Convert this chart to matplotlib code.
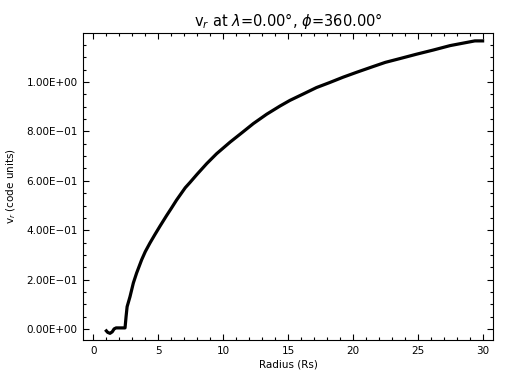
import matplotlib
matplotlib.use("Agg")
import matplotlib.pyplot as plt
import matplotlib.ticker as mticker

# radius (Rs) and v_r (code units)
radius = [1.0, 1.1, 1.28, 1.45, 1.6, 1.75, 2.44, 2.52, 2.6, 2.82, 3.08, 3.33, 3.72,
          4.0, 4.36, 4.75, 5.13, 5.64, 6.0, 6.41, 7.08, 7.44, 8.0, 8.74, 9.5,
          10.54, 11.5, 12.33, 13.36, 14.38, 15.15, 16.18, 17.2, 18.2, 19.25,
          20.3, 21.5, 22.5, 23.6, 24.9, 26.2, 27.5, 28.5, 29.4, 30.0]
vr = [-0.008, -0.014, -0.018, -0.012, 0.0, 0.004, 0.004, 0.05, 0.09, 0.13, 0.186,
      0.226, 0.28, 0.313, 0.348, 0.383, 0.416, 0.459, 0.488, 0.522, 0.572, 0.593,
      0.627, 0.670, 0.710, 0.757, 0.797, 0.832, 0.870, 0.903, 0.926, 0.952,
      0.978, 0.998, 1.020, 1.04, 1.062, 1.08, 1.095, 1.113, 1.13, 1.148, 1.158,
      1.167, 1.167]

title_txt = r"v$_r$ at $\lambda$=0.00°, $\phi$=360.00°"
xlabel_txt = "Radius (Rs)"
ylabel_txt = r"v$_r$ (code units)"


def sci_fmt(y, pos):
    s = f"{y:.2E}"
    return s.replace("-", "\u2212")


fig = plt.figure(figsize=(5.12, 3.84), dpi=100)
ax = fig.add_axes([83 / 512, 1 - 340 / 384, 410 / 512, 307 / 384])

ax.plot(radius, vr, color="black", lw=2.3, solid_joinstyle="round")

ax.set_xlim(-0.8, 30.8)
ax.set_ylim(-0.045, 1.199)

ax.xaxis.set_major_locator(mticker.MultipleLocator(5))
ax.xaxis.set_minor_locator(mticker.MultipleLocator(1))
ax.yaxis.set_major_locator(mticker.MultipleLocator(0.2))
ax.yaxis.set_minor_locator(mticker.MultipleLocator(0.05))
ax.yaxis.set_major_formatter(mticker.FuncFormatter(sci_fmt))

ax.tick_params(which="both", direction="in", top=True, right=True,
               labelsize=7.5, width=0.8)
ax.tick_params(which="major", length=4, pad=4)
ax.tick_params(which="minor", length=2)
for sp in ax.spines.values():
    sp.set_linewidth(0.8)

ax.set_title(title_txt, fontsize=10.5, pad=5)
ax.set_xlabel(xlabel_txt, fontsize=7.5, labelpad=3)
ax.set_ylabel(ylabel_txt, fontsize=7.5, labelpad=6)

fig.savefig("out.png", dpi=100)
